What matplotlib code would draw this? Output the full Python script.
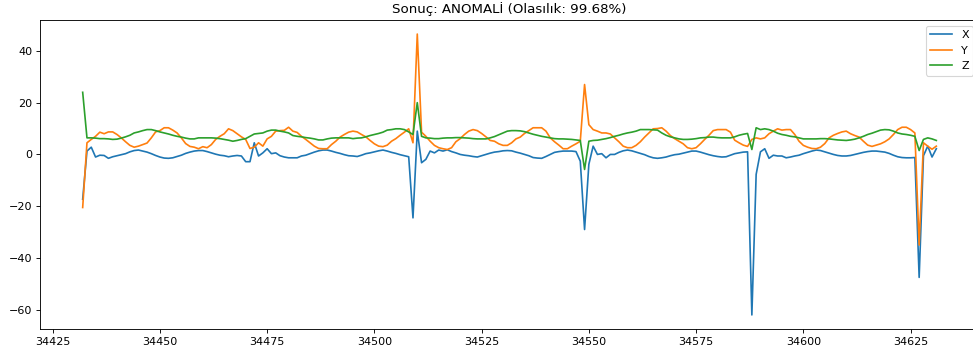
import matplotlib.pyplot as plt
import numpy as np

start = 34432

x_vals = [
    -17.3, 1.3, 2.8, -1.0, -0.3, -0.4, -1.5, -0.9, -0.5, -0.1,
    0.3, 1.0, 1.5, 1.7, 1.3, 0.9, 0.3, -0.4, -1.0, -1.4,
    -1.5, -1.3, -0.8, -0.3, 0.4, 0.9, 1.3, 1.5, 1.5, 1.1,
    0.6, 0.1, -0.3, -0.5, -0.9, -0.6, -0.4, -0.6, -2.8, -2.8,
    4.5, -0.6, 0.6, 2.2, 0.3, 0.6, -0.5, -1.0, -1.3, -1.3,
    -1.3, -0.6, -0.3, 0.3, 0.9, 1.4, 1.7, 1.7, 1.3, 0.8,
    0.4, -0.1, -0.5, -0.6, -0.8, -0.3, 0.3, 0.6, 1.0, 1.4,
    1.7, 1.3, 0.8, 0.4, -0.1, -0.5, -0.9, -24.5, 9.0, -3.2,
    -1.9, 1.3, 0.6, 1.7, 1.3, 1.8, 1.1, 0.6, 0.0, -0.3,
    -0.5, -0.8, -1.0, -0.5, 0.0, 0.5, 0.9, 1.1, 1.4, 1.5,
    1.4, 0.9, 0.5, 0.0, -0.5, -1.2, -1.4, -1.5, -0.8, 0.0,
    0.8, 1.1, 1.3, 1.3, 1.3, 1.1, -2.6, -29.0, -3.8, 3.2,
    0.0, 0.3, -1.3, 0.0, 0.0, 0.8, 1.4, 1.7, 1.4, 0.9,
    0.4, -0.1, -0.8, -1.3, -1.5, -1.3, -1.0, -0.5, -0.1, 0.1,
    0.5, 0.9, 1.3, 1.3, 0.9, 0.4, -0.1, -0.5, -0.8, -1.0,
    -0.9, -0.3, 0.3, 0.6, 0.9, 1.0, -62.0, -7.7, 1.0, 2.2,
    -1.5, -0.3, -0.6, -0.6, -1.3, -1.0, -0.6, -0.3, 0.3, 0.8,
    1.3, 1.7, 1.5, 1.0, 0.5, 0.0, -0.4, -0.6, -0.6, -0.4,
    0.0, 0.4, 0.8, 1.1, 1.3, 1.3, 1.1, 0.9, 0.4, -0.3,
    -0.9, -1.2, -1.3, -1.3, -1.2, -47.5, -0.5, 3.2, -1.0, 2.2,
]

y_vals = [
    -20.5, 4.5, 5.8, 7.0, 8.6, 8.0, 8.7, 8.7, 7.7, 6.4,
    4.9, 3.5, 2.8, 3.2, 3.8, 4.4, 6.4, 8.7, 9.2, 10.3,
    10.3, 9.4, 8.3, 6.4, 4.2, 3.1, 2.8, 2.2, 3.0, 2.6,
    3.8, 5.8, 7.0, 8.0, 9.9, 9.2, 8.0, 6.8, 5.8, 2.3,
    2.8, 4.5, 3.2, 6.0, 7.0, 9.0, 9.2, 9.3, 10.5, 9.0,
    8.5, 7.0, 5.8, 4.5, 3.2, 2.3, 2.2, 2.2, 3.8, 5.1,
    6.7, 7.7, 8.6, 9.0, 8.7, 7.7, 6.8, 5.4, 4.1, 3.2,
    3.0, 3.6, 5.1, 6.1, 7.4, 8.6, 9.9, 4.5, 46.5, 8.6,
    7.0, 5.1, 3.5, 2.6, 2.2, 1.9, 2.6, 4.9, 6.1, 7.7,
    9.0, 9.6, 9.2, 8.1, 6.8, 5.4, 5.1, 4.1, 3.5, 3.5,
    4.5, 6.0, 6.7, 8.1, 9.2, 10.3, 10.3, 10.3, 9.0, 6.4,
    4.9, 3.6, 2.2, 2.2, 3.2, 4.1, 5.1, 27.0, 11.5, 9.6,
    9.0, 8.3, 8.3, 7.9, 6.4, 4.9, 3.2, 2.6, 2.6, 3.5,
    4.9, 6.7, 8.3, 9.9, 10.0, 10.3, 9.0, 7.3, 6.1, 5.1,
    4.1, 2.6, 2.2, 2.6, 4.1, 5.8, 7.4, 9.2, 9.6, 9.6,
    9.6, 8.6, 5.5, 4.5, 3.6, 3.1, 5.8, 6.4, 6.0, 6.4,
    8.0, 9.0, 9.9, 9.4, 9.6, 9.6, 7.7, 5.1, 3.5, 2.8,
    2.3, 2.2, 2.8, 4.2, 6.4, 7.4, 8.1, 8.7, 9.0, 8.0,
    7.3, 6.7, 5.1, 3.6, 3.1, 3.6, 4.1, 4.9, 6.0, 7.7,
    9.6, 10.5, 10.5, 9.6, 8.3, -35.0, 4.5, 3.2, 2.0, 3.2,
]

z_vals = [
    24.0, 6.4, 6.4, 6.3, 6.1, 6.1, 6.0, 5.8, 5.9, 6.3,
    6.8, 7.4, 8.3, 8.7, 9.2, 9.6, 9.6, 9.2, 8.7, 8.3,
    7.9, 7.4, 7.0, 6.7, 6.3, 6.0, 6.0, 6.4, 6.4, 6.4,
    6.4, 6.3, 6.1, 5.8, 5.5, 5.1, 5.4, 5.8, 6.1, 7.0,
    7.9, 8.1, 8.3, 9.0, 9.4, 9.4, 9.0, 8.7, 8.3, 7.3,
    7.0, 6.8, 6.5, 6.3, 6.0, 5.6, 5.6, 6.0, 6.3, 6.4,
    6.4, 6.4, 6.4, 6.1, 6.3, 6.4, 6.8, 7.3, 7.7, 8.1,
    8.6, 9.4, 9.6, 9.9, 9.9, 9.6, 8.7, 7.7, 20.0, 7.0,
    6.4, 6.3, 6.1, 6.1, 6.3, 6.4, 6.4, 6.5, 6.5, 6.4,
    6.3, 6.1, 6.0, 6.0, 6.0, 6.4, 6.9, 7.6, 8.3, 9.0,
    9.2, 9.2, 9.1, 8.8, 8.3, 7.8, 7.4, 7.0, 6.7, 6.4,
    6.1, 6.0, 6.0, 5.9, 5.8, 5.6, 5.4, -5.8, 5.1, 5.4,
    5.5, 5.8, 6.1, 6.5, 7.0, 7.4, 7.9, 8.3, 8.6, 9.0,
    9.6, 9.6, 9.6, 9.5, 9.4, 8.3, 7.4, 6.8, 6.4, 6.0,
    5.8, 5.8, 5.9, 6.1, 6.4, 6.5, 6.7, 6.7, 6.5, 6.4,
    6.4, 6.4, 6.8, 7.4, 7.8, 8.1, 1.9, 10.3, 9.6, 9.9,
    9.6, 9.0, 8.2, 7.7, 7.4, 7.0, 6.8, 6.4, 6.0, 6.0,
    6.0, 6.0, 6.1, 6.1, 6.0, 5.8, 5.6, 5.5, 5.4, 5.6,
    5.9, 6.4, 7.0, 7.7, 8.2, 8.8, 9.4, 9.6, 9.5, 9.0,
    8.3, 7.9, 7.7, 7.4, 7.0, 1.5, 5.8, 6.4, 6.0, 5.4,
]

t = np.arange(start, start + len(x_vals))

# reference looks like a ~1216px wide figure shrunk to 973px, so draw at 80 dpi
fig = plt.figure(figsize=(973 / 80, 356 / 80), dpi=80)
ax = fig.add_axes([40 / 973, 27 / 356, 939 / 973, 309 / 356])
ax.plot(t, x_vals, label='X')
ax.plot(t, y_vals, label='Y')
ax.plot(t, z_vals, label='Z')
ax.set_title('Sonuç: ANOMALİ (Olasılık: 99.68%)')
ax.legend(loc='upper right')
fig.savefig('out.png', dpi=80)
